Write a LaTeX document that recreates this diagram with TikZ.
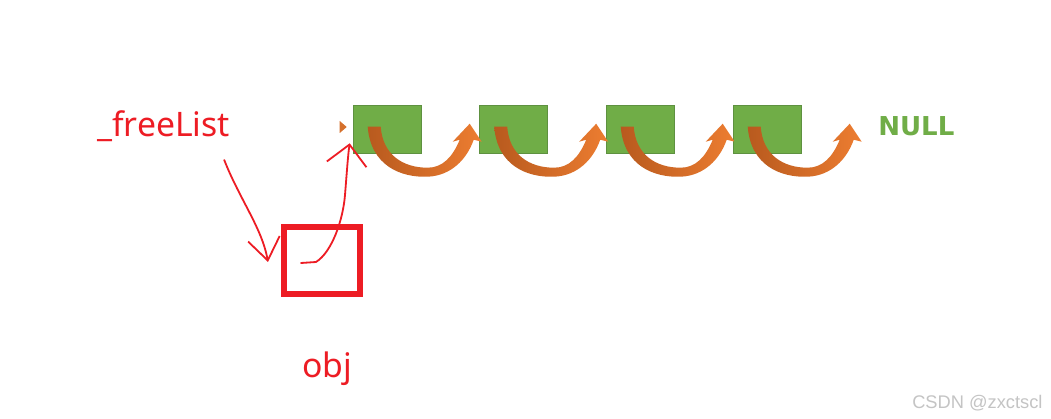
\documentclass[tikz,border=0pt]{standalone}
\usepackage{fontspec}
\setmainfont{Noto Sans}
\newfontfamily\tagfont{DejaVu Sans}
\newfontfamily\markfont{Liberation Sans}
\usepackage{tikz}
\usetikzlibrary{positioning,arrows.meta,calc}
\definecolor{mBoxGreen}{HTML}{70AD47}
\definecolor{mBoxEdge}{HTML}{5E9140}
\definecolor{mDarkOrange}{HTML}{B85A1E}
\definecolor{mOrange}{HTML}{ED7D31}
\definecolor{mPenRed}{HTML}{ED1C24}
\definecolor{mMarkGray}{HTML}{C4C4C4}
\tikzset{
  pen/.style={draw=mPenRed, line width=0.045cm, line cap=round, line join=round},
  hop/.style={left color=mDarkOrange, right color=mOrange, draw=none}
}
\newcommand{\blocknode}[2]{%
 \node[draw=mBoxEdge, fill=mBoxGreen, line width=0.4pt, minimum width=1.7cm, minimum height=1.2cm, inner sep=0pt] (#2) at (#1,129) {};%
}
% curved block arrow, drawn from the top left corner of a box
\newcommand{\hoparrow}[1]{%
 \begin{scope}[shift={(#1.north west)}]
 \path[hop] (15,22) .. controls (18,61) and (48,73) .. (75,72)
   .. controls (98,71) and (114,55) .. (121,35) -- (129,37) -- (117,19) -- (100,37) -- (107,35)
   .. controls (100,52) and (90,63) .. (75,63) .. controls (50,63) and (30,50) .. (28,22) -- cycle;
 \end{scope}}

\begin{document}
\begin{tikzpicture}[x=0.025cm, y=-0.025cm]
\useasboundingbox[fill=white] (0,0) rectangle (1051,419);
\blocknode{387}{b1}
\blocknode{513.5}{b2}
\blocknode{640}{b3}
\blocknode{767}{b4}
\hoparrow{b1}
\hoparrow{b2}
\hoparrow{b3}
\hoparrow{b4}
\fill[mOrange!90!black] ($(b1.west)+(-13,-8)$) -- ($(b1.west)+(-6,-2)$) -- ($(b1.west)+(-13,4)$) -- cycle;
\node[anchor=base west, inner sep=0pt, text=mBoxGreen, font={\tagfont\bfseries\fontsize{18.5}{21}\selectfont}] (null) at (878,136) {NULL};
\node[anchor=base west, inner sep=0pt, text=mPenRed, font={\fontsize{24}{28}\selectfont}] (free) at (97,137) {\_freeList};
\node[draw=mPenRed, line width=0.15cm, minimum width=1.9cm, minimum height=1.65cm, inner sep=0pt] (objbox) at (322,260.5) {};
\node[anchor=base west, inner sep=0pt, text=mPenRed, font={\fontsize{24}{28}\selectfont}] (objname) at (302,377) {obj};
\draw[pen, -{Straight Barb[length=0.55cm, width=0.8cm]}] ($(free.base east)+(-6,23)$)
  .. controls (240,200) and (262,228) .. ($(objbox.west)+(-13,1.5)$);
\draw[pen, -{Straight Barb[length=0.5cm, width=1cm]}] ($(objbox.center)+(-21,2.5)$) -- (316,262)
  .. controls (332,252) and (343,220) .. (345,195) .. controls (347,170) and (348,155) .. ($(b1.south west)+(-3,-10)$);
\node[anchor=base west, inner sep=0pt, text=mMarkGray, font={\markfont\fontsize{13}{15}\selectfont}] (mark) at (912,408) {CSDN @zxctscl};
\end{tikzpicture}
\end{document}
